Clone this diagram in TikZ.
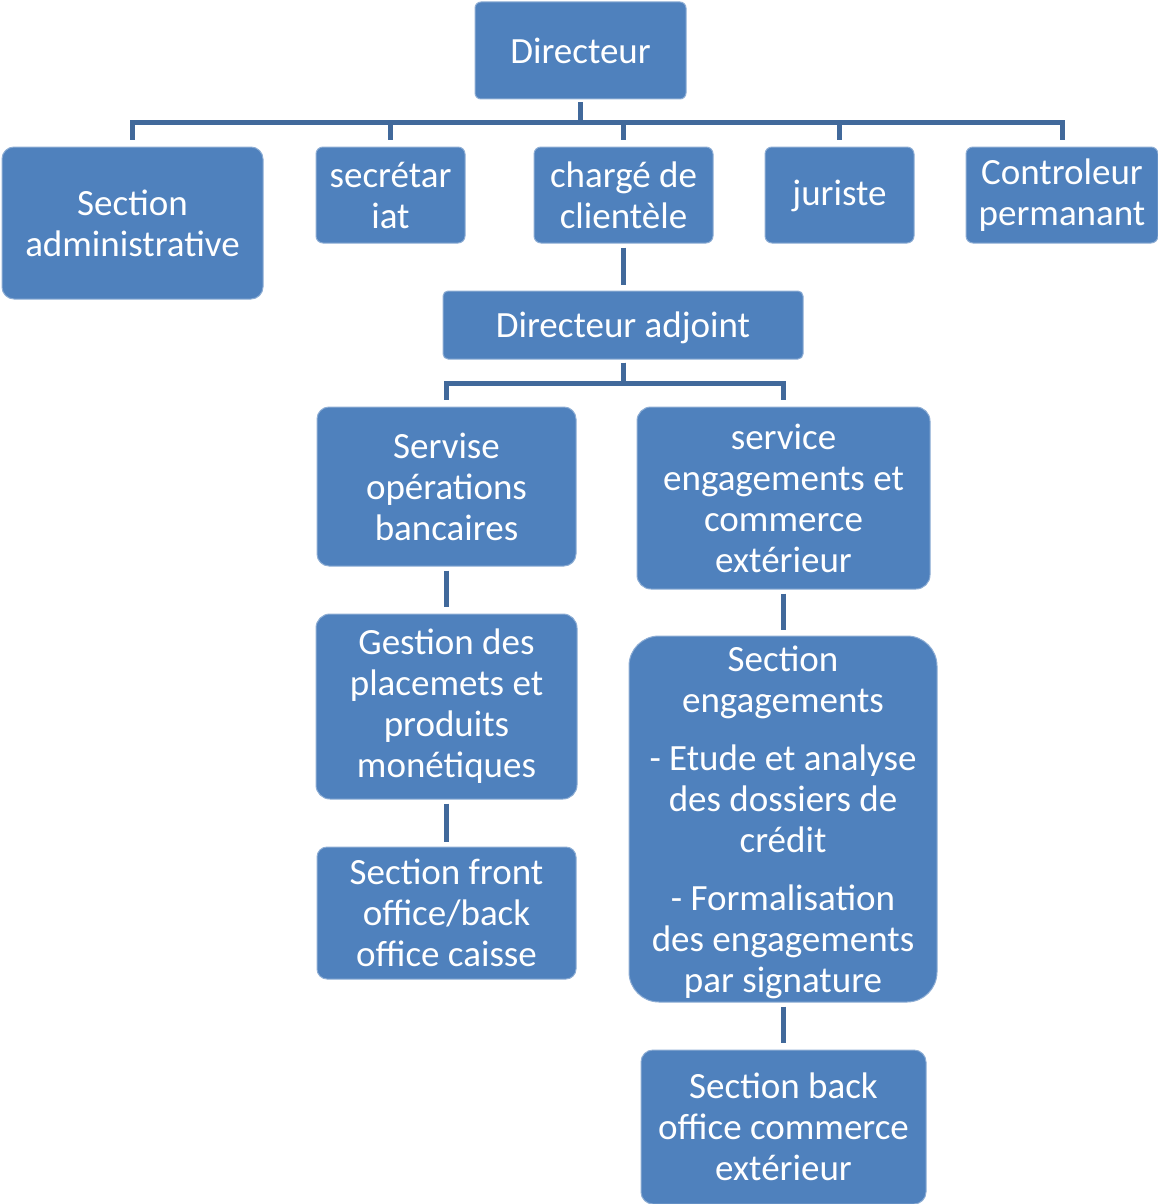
\documentclass[tikz,border=0pt]{standalone}
\usepackage{fontspec}
\setmainfont{Carlito}
\definecolor{boxblue}{HTML}{4F81BD}
\definecolor{lineblue}{HTML}{41699B}
\begin{document}
\begin{tikzpicture}[x=1pt,y=-1pt,
  txt/.style={text=white, align=center, inner sep=0pt, font=\fontsize{37}{41}\selectfont},
  box/.style={txt, fill=boxblue, draw=boxblue!65!white, line width=1pt},
  conn/.style={draw=lineblue, line width=5pt, shorten <=3pt, shorten >=7pt}]
\useasboundingbox (0,0) rectangle (1158,1204);

\node[box, minimum width=211, minimum height=97, rounded corners=6] (dir) at (580.5,50.5) {Directeur};

\node[box, minimum width=261, minimum height=152, rounded corners=12] (admin) at (132.5,223) {Section\\administrative};
\node[box, minimum width=149, minimum height=96, rounded corners=7] (secr) at (390.5,195) {secrétar\\iat};
\node[box, minimum width=179, minimum height=96, rounded corners=7] (charge) at (623.5,195) {chargé de\\clientèle};
\node[box, text height=29pt, text depth=8pt, minimum width=149, minimum height=96, rounded corners=7] (jur) at (839.5,195) {juriste};
\node[box, minimum width=192, minimum height=96, rounded corners=7] (ctrl) at (1062,195) {Controleur\\permanant};

\node[box, text height=32pt, text depth=8pt, minimum width=360, minimum height=68, rounded corners=5] (adj) at (623,325) {Directeur adjoint};

\node[box, minimum width=259, minimum height=159, rounded corners=12] (ops) at (446.5,486.5) {Servise\\opérations\\bancaires};
\node[box, minimum width=293, minimum height=182, rounded corners=14] (eng) at (783.5,498) {service\\engagements et\\commerce\\extérieur};

\node[box, minimum width=261, minimum height=185, rounded corners=14] (gest) at (446.5,706.5) {Gestion des\\placemets et\\produits\\monétiques};
\node[box, minimum width=259, minimum height=132, rounded corners=10] (front) at (446.5,913) {Section front\\office/back\\office caisse};

\node[box, minimum width=308, minimum height=366, rounded corners=30] (seng) at (783,819) {};
\node[txt] (sengtext) at (783,822) {Section\\engagements\\[17pt]- Etude et analyse\\des dossiers de\\crédit\\[17pt]- Formalisation\\des engagements\\par signature};
\node[box, minimum width=285, minimum height=154, rounded corners=12] (back) at (783.5,1127) {Section back\\office commerce\\extérieur};

\coordinate (b1) at (580.5,123);
\coordinate (b2) at (623,383);

\foreach \c in {admin,secr,charge,jur,ctrl}
  \draw[conn] (dir.south) -- (dir.south |- b1) -| (\c.north);

\draw[conn, shorten <=4pt, shorten >=6pt] (charge.south) -- (charge.south |- adj.north);

\foreach \c in {ops,eng}
  \draw[conn] (adj.south) -- (adj.south |- b2) -| (\c.north);

\draw[conn, shorten <=4pt, shorten >=7pt] (ops.south) -- (gest.north);
\draw[conn, shorten <=4pt, shorten >=5pt] (gest.south) -- (front.north);
\draw[conn, shorten <=4pt, shorten >=6pt] (eng.south) -- (eng.south |- seng.north);
\draw[conn, shorten <=4pt, shorten >=7pt] (seng.south) -- (seng.south |- back.north);
\end{tikzpicture}
\end{document}
